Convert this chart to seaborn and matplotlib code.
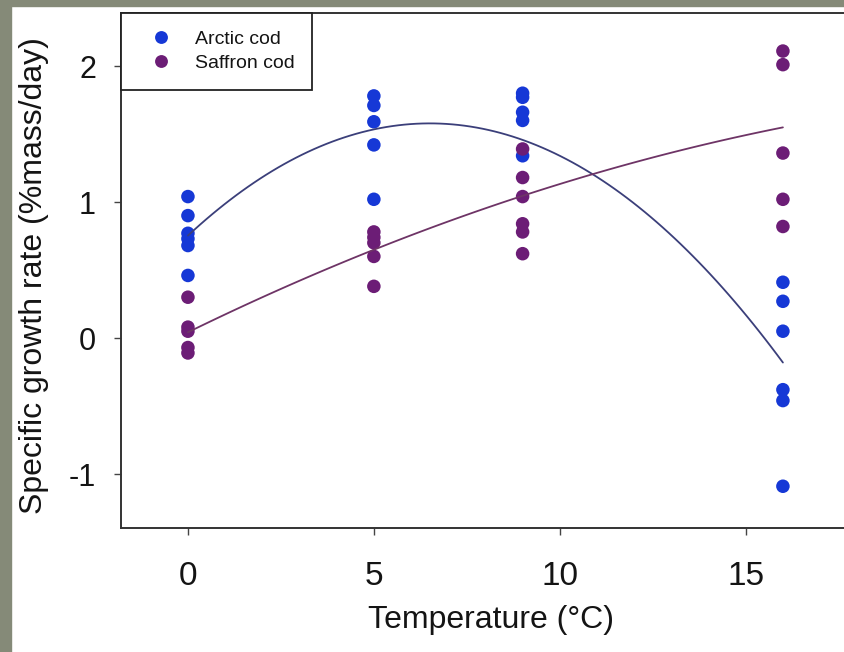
import numpy as np
import pandas as pd
import seaborn as sns
import matplotlib.pyplot as plt
from matplotlib.patches import Rectangle

# values
temps = [0, 5, 9, 16]
arctic = {
    0: [1.04, 0.90, 0.77, 0.73, 0.68, 0.46],
    5: [1.78, 1.71, 1.59, 1.42, 1.02],
    9: [1.80, 1.77, 1.66, 1.60, 1.34],
    16: [0.41, 0.27, 0.05, -0.38, -0.46, -1.09],
}
saffron = {
    0: [0.30, 0.08, 0.05, -0.07, -0.11],
    5: [0.78, 0.74, 0.70, 0.60, 0.38],
    9: [1.39, 1.18, 1.04, 0.84, 0.78, 0.62],
    16: [2.11, 2.01, 1.36, 1.02, 0.82],
}
# fitted curves at a few temperatures
curve_x = [0, 2, 4, 6, 8, 10, 12, 14, 16]
arctic_curve = [0.76, 1.17, 1.45, 1.58, 1.55, 1.34, 0.98, 0.47, -0.17]
saffron_curve = [0.04, 0.30, 0.54, 0.76, 0.95, 1.13, 1.29, 1.43, 1.55]

species = ["Arctic cod", "Saffron cod"]
point_colors = ["#1638d6", "#6c1d76"]
line_colors = ["#3b3f7a", "#6e3466"]
xticks = [0, 5, 10, 15]
yticks = [-1, 0, 1, 2]


def to_frame():
    rows = []
    for name, d in zip(species, [arctic, saffron]):
        for t in temps:
            for v in d[t]:
                rows.append({"temp": t, "sgr": v, "species": name})
    return pd.DataFrame(rows)


df = to_frame()

sns.set_theme(style="white")
plt.rcParams["font.family"] = ["Liberation Sans", "DejaVu Sans"]
plt.rcParams["text.color"] = "#141414"
plt.rcParams["axes.labelcolor"] = "#141414"
plt.rcParams["xtick.color"] = "#141414"
plt.rcParams["ytick.color"] = "#141414"

fig = plt.figure(figsize=(8.44, 6.52), dpi=100)
ax = fig.add_axes([121 / 844, 124 / 652, 740 / 844, 515.3 / 652])

sns.scatterplot(data=df, x="temp", y="sgr", hue="species", hue_order=species,
                palette=point_colors, s=95, edgecolor="none", ax=ax, zorder=2)

# smooth quadratic curves through the read-off fit values
for vals, lc in zip([arctic_curve, saffron_curve], line_colors):
    sns.regplot(x=np.array(curve_x), y=np.array(vals), order=2, ci=None,
                scatter=False, truncate=True,
                line_kws={"color": lc, "lw": 1.3, "zorder": 3}, ax=ax)

ax.set_xlim(-1.8, 18.1)
ax.set_ylim(-1.397, 2.392)
ax.set_xticks(xticks)
ax.set_yticks(yticks)
ax.set_xticklabels([str(t) for t in xticks])
ax.set_yticklabels([str(t) for t in yticks])

for s in ax.spines.values():
    s.set_color("#333333")
    s.set_linewidth(1.4)

ax.tick_params(axis="both", direction="out", length=5, width=1, color="#444444",
               left=True, bottom=True)
ax.tick_params(axis="x", labelsize=24, pad=19)
ax.tick_params(axis="y", labelsize=22, pad=13)

ax.set_xlabel("Temperature (°C)", fontsize=23)
ax.set_ylabel("Specific growth rate (%mass/day)", fontsize=23)
ax.xaxis.set_label_coords(0.5, -0.149)
ax.yaxis.set_label_coords(-0.097, 0.49)

leg = ax.legend(loc="upper left", bbox_to_anchor=(0, 1), borderaxespad=0,
                fontsize=14, frameon=True, fancybox=False, framealpha=1,
                borderpad=0.9, handlelength=2.3, handletextpad=0.6,
                labelspacing=0.35, markerscale=0.95, title=None)
leg.get_frame().set_edgecolor("#222222")
leg.get_frame().set_linewidth(1.3)

# grey slide border at the left and top
fig.patches.append(Rectangle((0, 0), 11 / 844, 1, transform=fig.transFigure,
                             color="#858a78", zorder=0))
fig.patches.append(Rectangle((0, 1 - 6 / 652), 1, 6 / 652, transform=fig.transFigure,
                             color="#858a78", zorder=0))

fig.savefig("out.png", dpi=100)
